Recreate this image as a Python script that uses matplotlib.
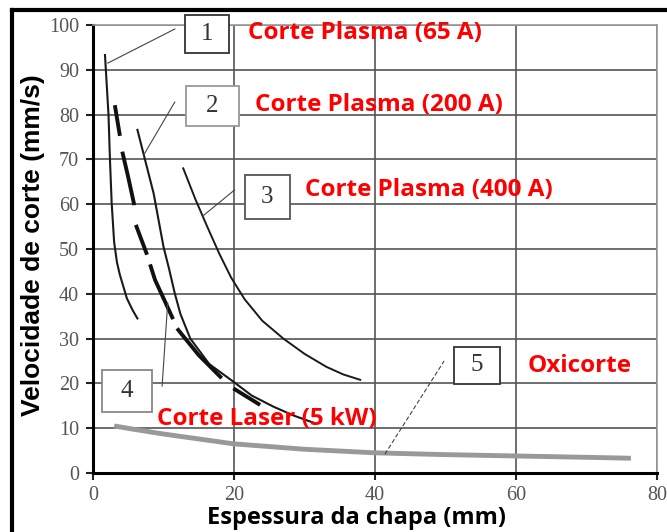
import matplotlib.pyplot as plt
from matplotlib.lines import Line2D
from matplotlib.patches import Rectangle

# curve data (thickness mm, speed mm/s)
plasma65_x = [1.7, 2.2, 2.4, 2.65, 3.0, 3.4, 3.8, 4.8, 5.6, 6.3]
plasma65_y = [93.3, 79.9, 70.2, 60.2, 51.5, 47.0, 44.3, 39.0, 36.4, 34.5]

plasma200_x = [6.3, 7.4, 8.6, 10.0, 10.8, 11.6, 12.4, 13.8, 16.5, 19.9, 22.5, 25.6, 28.5, 31.5]
plasma200_y = [76.6, 69.8, 62.4, 50.5, 45.5, 40.1, 35.5, 30.0, 24.3, 20.4, 17.3, 14.8, 12.8, 11.1]

plasma400_x = [12.8, 14.5, 16.2, 17.9, 19.6, 21.5, 24.0, 27.0, 30.0, 33.1, 35.5, 37.9]
plasma400_y = [68.0, 61.2, 55.0, 49.0, 43.6, 38.8, 34.0, 30.0, 26.6, 23.7, 22.0, 20.8]

laser_x = [3.1, 3.8, 4.1, 5.0, 5.8, 6.0, 7.6, 8.8, 10.0, 11.4, 11.9, 15.0, 18.3, 19.9, 23.7]
laser_y = [82.1, 75.4, 72.1, 66.0, 60.2, 55.7, 49.0, 43.1, 39.0, 34.2, 32.3, 26.3, 21.1, 18.9, 15.2]

oxi_x = [3.0, 6.0, 10.0, 20.0, 30.0, 40.0, 50.0, 60.0, 70.0, 76.3]
oxi_y = [10.5, 9.7, 8.7, 6.5, 5.3, 4.5, 4.1, 3.8, 3.5, 3.3]

x_ticks = [0, 20, 40, 60, 80]
y_ticks = list(range(0, 101, 10))

# numbered boxes: label, centre, leader start, leader end
box_labels = ['1', '2', '3', '4', '5']
box_centres = [(16.2, 98.0), (16.9, 82.0), (24.7, 61.6), (4.8, 18.3), (54.5, 24.0)]
box_sizes = [(6.2, 8.5), (7.5, 8.9), (6.4, 10.0), (7.1, 9.2), (6.5, 8.3)]
box_edges = ['#333333', '#999999', '#555555', '#888888', '#333333']
leaders = [((2.1, 91.5), (11.6, 99.1)),
           ((7.2, 71.0), (11.6, 82.8)),
           ((15.6, 57.4), (20.1, 63.2)),
           ((9.8, 19.4), (10.6, 38.0)),
           ((41.4, 4.2), (49.8, 25.0))]

# red names of the processes
names = ['Corte Plasma (65 A)', 'Corte Plasma (200 A)', 'Corte Plasma (400 A)',
         'Corte Laser (5 kW)', 'Oxicorte']
name_pos = [(22.0, 98.2), (23.0, 82.1), (30.1, 63.2), (9.1, 12.1), (61.7, 23.9)]

fig = plt.figure(figsize=(6.67, 5.32), dpi=100)
ax = fig.add_axes([93 / 667, 1 - 473 / 532, (657 - 93) / 667, (473 - 25) / 532])

ax.set_xlim(0, 80)
ax.set_ylim(0, 100)
ax.set_xticks(x_ticks)
ax.set_yticks(y_ticks)
ax.grid(True, color='#555555', linewidth=1.2)
ax.set_axisbelow(True)

for side in ['top', 'right']:
    ax.spines[side].set_color('#999999')
    ax.spines[side].set_linewidth(1.2)
for side in ['left', 'bottom']:
    ax.spines[side].set_color('black')
    ax.spines[side].set_linewidth(2.2)

ax.tick_params(axis='both', direction='out', length=5, width=1.5, color='#222222',
               labelsize=14.5, labelcolor='#555555')
ax.tick_params(axis='y', pad=5)
ax.tick_params(axis='x', pad=4)
for lab in ax.get_xticklabels() + ax.get_yticklabels():
    lab.set_family('Liberation Serif')

# curves
ax.plot(oxi_x, oxi_y, color='#999999', linewidth=3.5, solid_capstyle='butt')
ax.plot(plasma65_x, plasma65_y, color='#1a1a1a', linewidth=1.5)
ax.plot(plasma200_x, plasma200_y, color='#1a1a1a', linewidth=1.5)
ax.plot(plasma400_x, plasma400_y, color='#1a1a1a', linewidth=1.4)
ax.plot(laser_x, laser_y, color='#111111', linewidth=2.8,
        linestyle=(0, (8, 4.1, 14.1, 5.1, 8.2, 2.6, 15.3, 2.6, 17.2, 4, 8.2, 3)))

# leaders
for i, (p0, p1) in enumerate(leaders):
    ls = (0, (4, 2)) if i == 4 else '-'
    ax.plot([p0[0], p1[0]], [p0[1], p1[1]], color='#444444', linewidth=0.8,
            linestyle=ls, clip_on=False)

# numbered boxes
for lab, (cx, cy), (w, h), ec in zip(box_labels, box_centres, box_sizes, box_edges):
    ax.add_patch(Rectangle((cx - w / 2, cy - h / 2), w, h, facecolor='white',
                           edgecolor=ec, linewidth=1.3, clip_on=False, zorder=4))
    ax.text(cx, cy, lab, ha='center', va='center', fontsize=18, color='#333333',
            family='Liberation Serif', zorder=5, clip_on=False)

for txt, (tx, ty) in zip(names, name_pos):
    ax.text(tx, ty, txt, ha='left', va='center', fontsize=17.5, color='#ff0000',
            family='Open Sans', fontweight='bold', zorder=6, clip_on=False)

fig.text(357 / 667, 1 - 518 / 532, 'Espessura da chapa (mm)', ha='center', va='center',
         fontsize=17, fontweight='bold', family='Open Sans', color='black')
fig.text(33 / 667, 1 - 245 / 532, 'Velocidade de corte (mm/s)', ha='center', va='center',
         rotation=90, fontsize=19, fontweight='bold', family='Liberation Sans', color='black')

# black frame (left and top edges visible)
fig.add_artist(Line2D([12 / 667, 12 / 667], [0, 1 - 10 / 532], color='black', linewidth=3))
fig.add_artist(Line2D([12 / 667, 1], [1 - 10 / 532, 1 - 10 / 532], color='black', linewidth=3))

fig.savefig('out.png', dpi=100)
